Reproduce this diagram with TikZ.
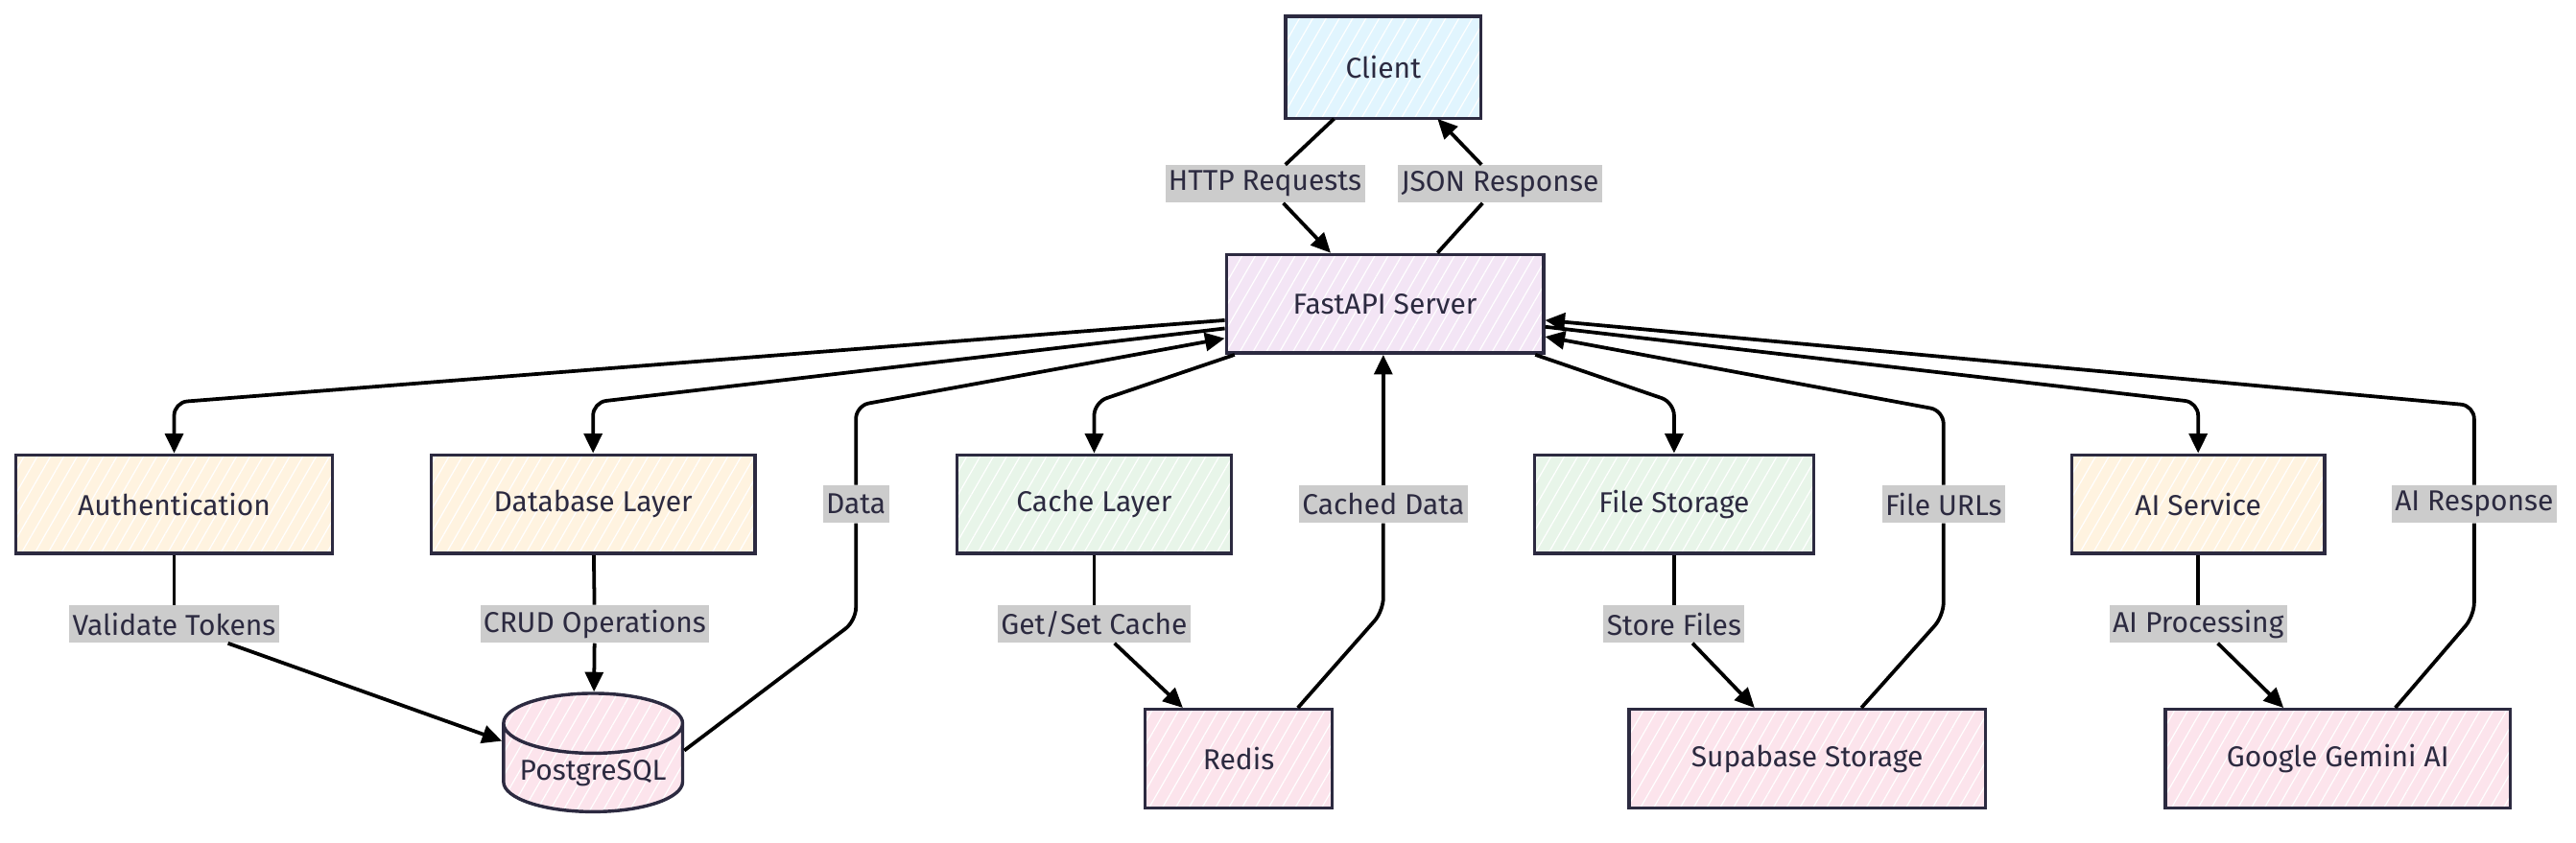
\documentclass[tikz,border=0pt]{standalone}
\usepackage{fontspec}
\setmainfont{Fira Sans}
\usetikzlibrary{arrows.meta,shapes.geometric,patterns.meta}
\definecolor{ink}{HTML}{2C2A40}
\definecolor{clientfill}{HTML}{E1F5FE}
\definecolor{apifill}{HTML}{F3E5F5}
\definecolor{svcfill}{HTML}{FFF3E0}
\definecolor{cachefill}{HTML}{E8F5E9}
\definecolor{extfill}{HTML}{FCE4EC}
\newcommand\diagfont{\fontsize{17.5}{20}\selectfont}
\tikzset{
  box/.style={draw=ink, line width=2pt, minimum height=60pt, text=ink, font=\diagfont,
    preaction={fill=#1}, pattern={Lines[angle=60,distance=7pt,line width=0.7pt]}, pattern color=white},
  store/.style={box=#1, cylinder, shape border rotate=90, aspect=0.38},
  lbl/.style={fill=gray!40, text=ink, font=\diagfont, inner sep=2pt, minimum height=23pt},
  link/.style={line width=2.2pt, rounded corners=8pt},
  flow/.style={link, -{Triangle[length=12pt,width=11pt]}}
}
\begin{document}
\begin{tikzpicture}[x=1pt,y=-1pt]
\useasboundingbox (0,0) rectangle (1568,513.3);
\fill[white] (0,0) rectangle (1568,513.3);
\node[box=clientfill, minimum width=119pt, minimum height=62pt] (client) at (842,41) {Client};
\node[box=apifill, minimum width=193pt] (api) at (843,185) {FastAPI Server};
\node[box=svcfill, minimum width=193pt] (auth) at (106,307) {Authentication};
\node[box=svcfill, minimum width=197pt] (db) at (361,307) {Database Layer};
\node[box=cachefill, minimum width=167pt] (cache) at (666,307) {Cache Layer};
\node[box=cachefill, minimum width=170pt] (files) at (1019,307) {File Storage};
\node[box=svcfill, minimum width=154pt] (ai) at (1338,307) {AI Service};
\node[store=extfill, minimum width=109pt, minimum height=64pt] (pg) at (361,471) {PostgreSQL};
\node[box=extfill, minimum width=114pt] (redis) at (754,462) {Redis};
\node[box=extfill, minimum width=217pt] (supa) at (1100,462) {Supabase Storage};
\node[box=extfill, minimum width=210pt] (gemini) at (1423,462) {Google Gemini AI};

\node[lbl] (http) at (770,112) {HTTP Requests};
\node[lbl] (json) at (913,112) {JSON Response};
\node[lbl] (data) at (521,307) {Data};
\node[lbl] (cached) at (842,307) {Cached Data};
\node[lbl] (urls) at (1183,307) {File URLs};
\node[lbl] (airesp) at (1506,307) {AI Response};
\node[lbl] (tokens) at (106,380) {Validate Tokens};
\node[lbl] (crud) at (362,380) {CRUD Operations};
\node[lbl] (getset) at (666,380) {Get/Set Cache};
\node[lbl] (storef) at (1019,380) {Store Files};
\node[lbl] (aiproc) at (1338,380) {AI Processing};

\draw[link] ([shift={(-30,0)}]client.south) -- (http);
\draw[flow] (http) -- ([shift={(-33,0)}]api.north);
\draw[link] ([shift={(32,0)}]api.north) -- (json);
\draw[flow] (json) -- ([shift={(33,0)}]client.south);

\draw[flow] ([shift={(0,10)}]api.west) -- (auth.north |- 0,245) -- (auth);
\draw[flow] ([shift={(0,15)}]api.west) -- (db.north |- 0,245) -- (db);
\draw[link] ([shift={(0,-14)}]pg.east) -- (data |- 0,378) -- (data);
\draw[flow] (data) -- (data |- 0,247) -- ([shift={(0,21)}]api.west);
\draw[flow] ([shift={(6,0)}]api.south west) -- (cache.north |- 0,245) -- (cache);
\draw[link] ([shift={(36,0)}]redis.north) -- (cached |- 0,372) -- (cached);
\draw[flow] (cached) -- (cached |- api.south);
\draw[flow] ([shift={(-6,0)}]api.south east) -- (files.north |- 0,245) -- (files);
\draw[link] ([shift={(33,0)}]supa.north) -- (urls |- 0,375) -- (urls);
\draw[flow] (urls) -- (urls |- 0,250) -- ([shift={(0,20)}]api.east);
\draw[flow] ([shift={(0,14)}]api.east) -- (ai.north |- 0,245) -- (ai);
\draw[link] ([shift={(35,0)}]gemini.north) -- (airesp |- 0,375) -- (airesp);
\draw[flow] (airesp) -- (airesp |- 0,247) -- ([shift={(0,10)}]api.east);

\draw[link] (auth) -- (tokens);
\draw[flow] (tokens) -- (pg);
\draw[link] (db) -- (crud);
\draw[flow] (crud) -- (pg);
\draw[link] (cache) -- (getset);
\draw[flow] (getset) -- ([shift={(-34,0)}]redis.north);
\draw[link] (files) -- (storef);
\draw[flow] (storef) -- ([shift={(-32,0)}]supa.north);
\draw[link] (ai) -- (aiproc);
\draw[flow] (aiproc) -- ([shift={(-33,0)}]gemini.north);
\end{tikzpicture}
\end{document}
